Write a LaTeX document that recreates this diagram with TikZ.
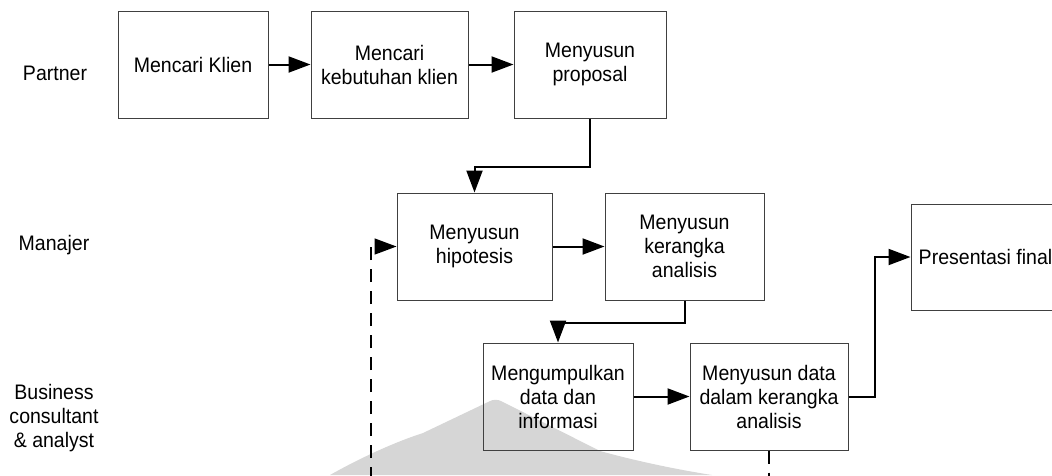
\documentclass[tikz,border=0pt]{standalone}
\usepackage{fontspec}
\setmainfont{Liberation Sans}[FakeStretch=0.93]
\usetikzlibrary{arrows.meta}
\begin{document}
\begin{tikzpicture}[x=1pt,y=-1pt,
  every node/.style={font=\fontsize{21}{24}\selectfont},
  stepbox/.style={draw=black!75,line width=1pt,align=center,inner sep=0pt,
    minimum height=107pt},
  lane/.style={align=center,inner sep=0pt},
  flow/.style={line width=2pt,-{Triangle[length=22pt,width=16pt]}},
  backflow/.style={line width=1.5pt,dash pattern=on 13pt off 9pt,
    -{Triangle[length=22pt,width=16pt]}},
  backline/.style={line width=1.5pt,dash pattern=on 13pt off 9pt}]
\useasboundingbox (0,0) rectangle (1052,475);
\begin{scope}
\clip (0,0) rectangle (1052,475);

% faint emblem in the background
\fill[black!16] (330,475) .. controls (360,458) and (395,442) .. (423,433)
  -- (488,402) .. controls (493,399) and (498,399) .. (503,402)
  -- (600,451) .. controls (640,462) and (680,470) .. (712,475) -- cycle;

% lane labels
\node[lane] (lp) at (55,73) {Partner};
\node[lane] (lm) at (54,245) {Manajer};
\node[lane] (lb) at (54,418) {Business\\consultant\\\& analyst};

% partner lane
\node[stepbox,minimum width=150pt] (b1) at (193,64.5) {Mencari Klien};
\node[stepbox,minimum width=157pt] (b2) at (389.5,64.5) {Mencari\\kebutuhan klien};
\node[stepbox,minimum width=152pt] (b3) at (590,64.5) {Menyusun\\proposal};

% manager lane
\node[stepbox,minimum width=155pt] (b4) at (474.5,246.5) {Menyusun\\hipotesis};
\node[stepbox,minimum width=159pt] (b5) at (684.5,246.5) {Menyusun\\kerangka\\analisis};
\node[stepbox,minimum width=149pt,minimum height=106pt] (b6) at (985.5,257) {Presentasi final};

% consultant lane
\node[stepbox,minimum width=150pt] (b7) at (558,396.5) {Mengumpulkan\\data dan\\informasi};
\node[stepbox,minimum width=158pt] (b8) at (769,396.5) {Menyusun data\\dalam kerangka\\analisis};

% connectors
\draw[flow] (b1) -- (b2);
\draw[flow] (b2) -- (b3);
\draw[flow] (b3.south) -- ++(0,48) -| (b4.north);
\draw[flow] (b4) -- (b5);
\draw[flow] (b5.south) -- ++(0,22) -| (b7.north);
\draw[flow] (b7) -- (b8);
\draw[flow] (b8.east) -- ++(26,0) |- (b6.west);

% dashed feedback lines
\coordinate (fb) at (371,480);
\coordinate (fo) at (769,480);
\draw[backflow] (fb) |- (b4.west);
\draw[backline] (b8.south) -- (fo);
\end{scope}
\end{tikzpicture}
\end{document}
